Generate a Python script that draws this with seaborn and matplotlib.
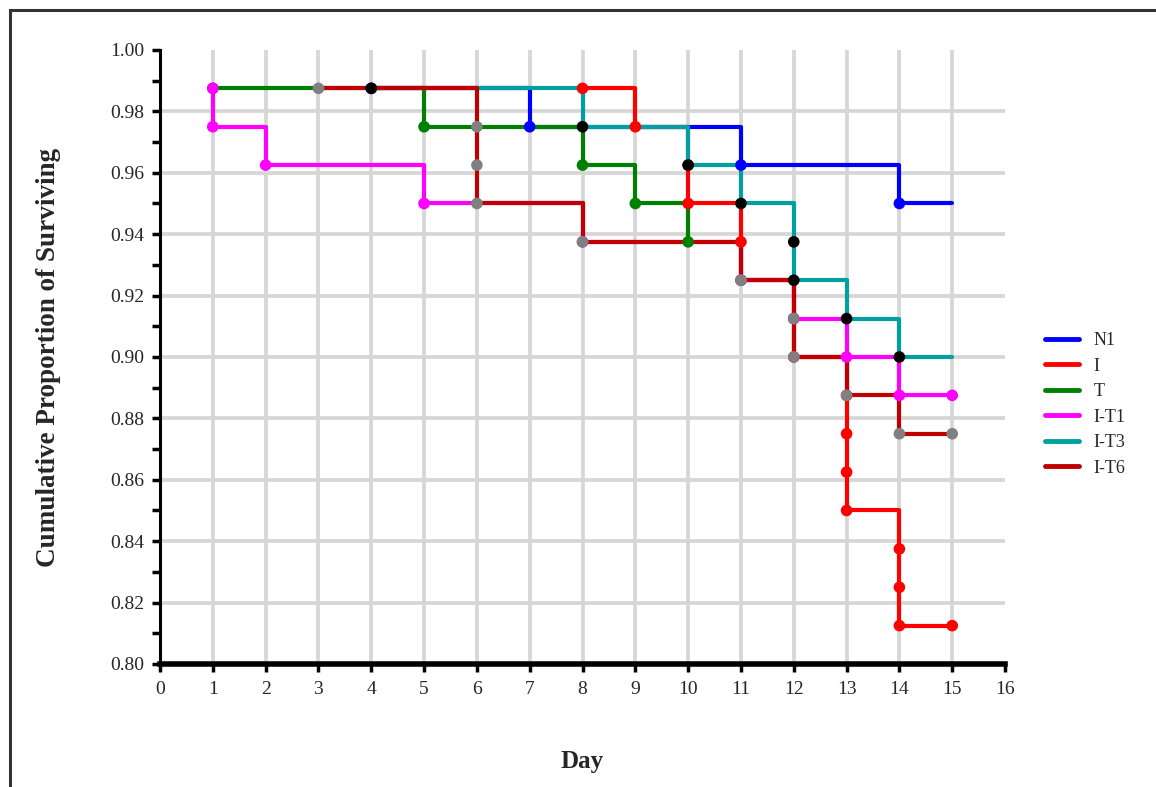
"""
Kaplan-Meier style survival curves for the six treatment groups.
Saves out.png.
"""

import matplotlib.pyplot as plt
import numpy as np
import pandas as pd
import seaborn as sns
from matplotlib.lines import Line2D
from matplotlib.patches import Rectangle
from matplotlib.ticker import MultipleLocator

# --- data (day of event, survival after the event) ---
groups = ["N1", "I", "T", "I-T1", "I-T3", "I-T6"]

days_n1 = [4, 7, 11, 14]
surv_n1 = [0.9875, 0.975, 0.9625, 0.95]

days_i = [8, 9, 10, 10, 11, 11, 12, 12, 13, 13, 13, 13, 14, 14, 14]
surv_i = [0.9875, 0.975, 0.9625, 0.95, 0.9375, 0.925, 0.9125, 0.9,
          0.8875, 0.875, 0.8625, 0.85, 0.8375, 0.825, 0.8125]

days_t = [1, 5, 8, 9, 10]
surv_t = [0.9875, 0.975, 0.9625, 0.95, 0.9375]

days_it1 = [1, 1, 2, 5, 8, 11, 12, 13, 14]
surv_it1 = [0.9875, 0.975, 0.9625, 0.95, 0.9375, 0.925, 0.9125, 0.9, 0.8875]

days_it3 = [4, 8, 10, 11, 12, 12, 13, 14]
surv_it3 = [0.9875, 0.975, 0.9625, 0.95, 0.9375, 0.925, 0.9125, 0.9]

days_it6 = [3, 6, 6, 6, 8, 11, 12, 12, 13, 14]
surv_it6 = [0.9875, 0.975, 0.9625, 0.95, 0.9375, 0.925, 0.9125, 0.9, 0.8875, 0.875]

# last day each curve is carried to, and whether that end point is marked
end_day = [15, 15, 10, 15, 15, 15]
end_marked = [False, True, False, True, False, True]

line_colors = ["#0000ff", "#ff0000", "#008000", "#ff00ff", "#00a0a0", "#c00000"]
marker_colors = ["#0000ff", "#ff0000", "#008000", "#ff00ff", "#000000", "#808080"]

all_days = [days_n1, days_i, days_t, days_it1, days_it3, days_it6]
all_surv = [surv_n1, surv_i, surv_t, surv_it1, surv_it3, surv_it6]


def step_path(days, surv, last_day):
    """Turn event points into a post-step path carried on to last_day."""
    xs, ys = [days[0]], [surv[0]]
    for d, s in zip(days[1:], surv[1:]):
        xs += [d, d]
        ys += [ys[-1], s]
    if last_day > xs[-1]:
        xs.append(last_day)
        ys.append(ys[-1])
    return xs, ys


sns.set_theme(style="white")
plt.rcParams["font.family"] = ["Liberation Serif", "DejaVu Serif"]

fig = plt.figure(figsize=(11.56, 7.87), dpi=100)
ax = fig.add_axes([0.1384, 0.1563, 0.7310, 0.7802])

for k, g in enumerate(groups):
    xs, ys = step_path(all_days[k], all_surv[k], end_day[k])
    path = pd.DataFrame({"day": xs, "surv": ys})
    sns.lineplot(data=path, x="day", y="surv", sort=False, estimator=None,
                 color=line_colors[k], lw=3.0, ax=ax, zorder=3)

    pts = pd.DataFrame({"day": all_days[k], "surv": all_surv[k]})
    if end_marked[k]:
        pts = pd.concat([pts, pd.DataFrame({"day": [end_day[k]],
                                            "surv": [all_surv[k][-1]]})])
    sns.scatterplot(data=pts, x="day", y="surv", color=marker_colors[k],
                    s=70, edgecolor="none", ax=ax, zorder=4)

ax.set_xlim(0, 16)
ax.set_ylim(0.80, 1.00)
ax.xaxis.set_major_locator(MultipleLocator(1))
ax.yaxis.set_major_locator(MultipleLocator(0.02))
ax.yaxis.set_minor_locator(MultipleLocator(0.01))
ax.yaxis.set_major_formatter(plt.FormatStrFormatter("%.2f"))

# grid drawn by hand so the outer lines (1.00, 0.80, day 0, day 16) stay clear
for d in range(1, 16):
    ax.axvline(d, color="#d6d6d6", lw=2.7, zorder=1)
for v in np.arange(0.82, 0.99, 0.02):
    ax.axhline(v, color="#d6d6d6", lw=2.7, zorder=1)

for side in ("top", "right"):
    ax.spines[side].set_visible(False)
ax.spines["left"].set_linewidth(2.2)
ax.spines["left"].set_color("black")
ax.spines["bottom"].set_linewidth(4)
ax.spines["bottom"].set_color("black")

ax.tick_params(axis="x", which="major", direction="out", length=6, width=2.5,
               color="black", labelsize=14, pad=6, bottom=True)
ax.tick_params(axis="y", which="both", direction="out", length=6, width=2.5,
               color="black", labelsize=14, left=True)
ax.tick_params(axis="y", which="major", pad=5)

ax.set_xlabel("Day", fontsize=18, fontweight="bold", labelpad=38)
ax.set_ylabel("Cumulative Proportion of Surviving", fontsize=19.5,
              fontweight="bold", labelpad=36)

handles = [Line2D([], [], color=c, lw=3.5) for c in line_colors]
fig.legend(handles, groups, loc="center left", bbox_to_anchor=(0.890, 0.486),
           frameon=False, fontsize=13, handlelength=1.9, labelspacing=0.47,
           handletextpad=0.8)

# outer frame around the figure (only top and left edges fall inside the image)
fig.add_artist(Rectangle((10 / 1156, -0.1), 1.2, (1 - 10 / 787) + 0.1,
                         transform=fig.transFigure, fill=False,
                         edgecolor="#333333", lw=2.2))

fig.savefig("out.png", dpi=100)
